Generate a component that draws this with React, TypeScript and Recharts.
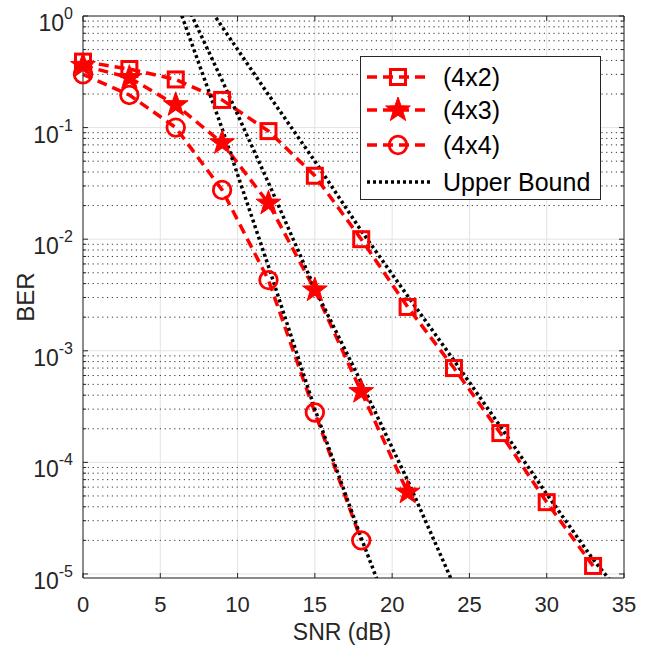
import React from "react";
import {
  LineChart,
  Line,
  XAxis,
  YAxis,
  CartesianGrid,
  ReferenceLine,
  Legend,
} from "recharts";

// simulated BER curves
const snr4x2 = [0, 3, 6, 9, 12, 15, 18, 21, 24, 27, 30, 33];
const ber4x2 = [0.39, 0.335, 0.27, 0.177, 0.093, 0.037, 0.01, 0.00247, 7.0e-4, 1.83e-4, 4.4e-5, 1.18e-5];

const snr4x3 = [0, 3, 6, 9, 12, 15, 18, 21];
const ber4x3 = [0.36, 0.28, 0.16, 0.073, 0.021, 0.0035, 4.3e-4, 5.4e-5];

const snr4x4 = [0, 3, 6, 9, 12, 15, 18];
const ber4x4 = [0.3, 0.196, 0.1, 0.0276, 0.0043, 2.8e-4, 2.0e-5];

// upper bounds
const boundSnr4x2 = [6, 9, 12, 15, 18, 21, 24, 27, 30, 33, 34.5];
const bound4x2 = [3.3, 0.8, 0.197, 0.05, 0.0119, 0.0031, 8.2e-4, 2.1e-4, 5.2e-5, 1.35e-5, 7.5e-6];

const boundSnr4x3 = [6, 9, 12, 15, 18, 21, 24];
const bound4x3 = [2.05, 0.265, 0.032, 0.0036, 5.2e-4, 6.9e-5, 7.9e-6];

const boundSnr4x4 = [6, 9, 12, 15, 18, 19.5];
const bound4x4 = [1.43, 0.098, 0.0057, 3.0e-4, 2.1e-5, 6.0e-6];

const xTicks = [0, 5, 10, 15, 20, 25, 30, 35];
const yTicks = [1e-5, 1e-4, 1e-3, 1e-2, 1e-1, 1];
const minorSteps = [2, 3, 4, 5, 6, 7, 8, 9];
const minorY = yTicks.slice(0, -1).flatMap((d) => minorSteps.map((m) => m * d));

const legendRows = [
  { label: "(4x2)", kind: "square" },
  { label: "(4x3)", kind: "star" },
  { label: "(4x4)", kind: "circle" },
  { label: "Upper Bound", kind: "bound" },
];

const toPoints = (xs: number[], ys: number[]) => xs.map((snr, i) => ({ snr, ber: ys[i] }));

const RED = "#ff0000";
const AXIS = "#262626";
const FONT = "'Liberation Sans', Arial, Helvetica, sans-serif";
const PL = 83;
const PR = 624;
const PT = 16;
const PB = 578;

function starPoints(cx: number, cy: number, R: number, r: number) {
  const pts: string[] = [];
  for (let i = 0; i < 10; i++) {
    const a = -Math.PI / 2 + (i * Math.PI) / 5;
    const rad = i % 2 === 0 ? R : r;
    pts.push(`${cx + rad * Math.cos(a)},${cy + rad * Math.sin(a)}`);
  }
  return pts.join(" ");
}

function Marker({ kind, cx, cy }: { kind: string; cx: number; cy: number }) {
  if (kind === "square")
    return <rect x={cx - 7.5} y={cy - 7.5} width={15} height={15} fill="none" stroke={RED} strokeWidth={3} />;
  if (kind === "circle") return <circle cx={cx} cy={cy} r={8.8} fill="none" stroke={RED} strokeWidth={2.8} />;
  if (kind === "star") return <polygon points={starPoints(cx, cy, 13, 5.2)} fill={RED} stroke={RED} strokeWidth={1} />;
  return null;
}

const dotFor = (kind: string) => (p: any) =>
  <Marker key={`${kind}-${p.index}`} kind={kind} cx={p.cx} cy={p.cy} />;

const YTick = ({ y, payload }: any) => {
  const exp = Math.round(Math.log10(payload.value));
  return (
    <g>
      <text x={73} y={y + 15} textAnchor="end" fontSize={23} fill={AXIS} fontFamily={FONT}>
        10
        <tspan dy={-12} fontSize={16}>
          {`${exp}`}
        </tspan>
      </text>
      <line x1={PL} x2={PL + 5} y1={y} y2={y} stroke={AXIS} />
      <line x1={PR - 5} x2={PR} y1={y} y2={y} stroke={AXIS} />
    </g>
  );
};

const XTick = ({ x, payload }: any) => (
  <g>
    <text x={x} y={PB + 34} textAnchor="middle" fontSize={22} fill={AXIS} fontFamily={FONT}>
      {payload.value}
    </text>
    <line x1={x} x2={x} y1={PB - 5} y2={PB} stroke={AXIS} />
    <line x1={x} x2={x} y1={PT} y2={PT + 5} stroke={AXIS} />
  </g>
);

const LegendBox = () => (
  <svg width={241} height={144} style={{ display: "block" }}>
    <rect x={0.5} y={0.5} width={240} height={143} fill="#fff" stroke={AXIS} strokeWidth={1} />
    {legendRows.map((row, i) => {
      const cy = [21, 54, 89, 126][i];
      const bound = row.kind === "bound";
      return (
        <g key={row.label}>
          <line
            x1={7}
            x2={70}
            y1={cy}
            y2={cy}
            stroke={bound ? "#000" : RED}
            strokeWidth={3.5}
            strokeDasharray={bound ? "3 3" : "10 6"}
          />
          <Marker kind={row.kind} cx={38} cy={cy} />
          <text x={83} y={cy + 9} fontSize={25} fill="#000" fontFamily={FONT}>
            {row.label}
          </text>
        </g>
      );
    })}
  </svg>
);

const YLabel = () => (
  <text x={34} y={297} transform="rotate(-90, 34, 297)" textAnchor="middle" fontSize={24} fill={AXIS} fontFamily={FONT}>
    BER
  </text>
);

const XLabel = () => (
  <text x={342} y={640} textAnchor="middle" fontSize={23} fill={AXIS} fontFamily={FONT}>
    SNR (dB)
  </text>
);

export default function App() {
  const redSeries = [
    { name: "(4x2)", kind: "square", data: toPoints(snr4x2, ber4x2) },
    { name: "(4x3)", kind: "star", data: toPoints(snr4x3, ber4x3) },
    { name: "(4x4)", kind: "circle", data: toPoints(snr4x4, ber4x4) },
  ];
  const bounds = [
    toPoints(boundSnr4x2, bound4x2),
    toPoints(boundSnr4x3, bound4x3),
    toPoints(boundSnr4x4, bound4x4),
  ];

  return (
    <div style={{ position: "absolute", left: 0, top: 0, background: "#fff" }}>
      <LineChart width={654} height={646} margin={{ top: PT, right: 654 - PR, left: 0, bottom: 0 }}>
        <CartesianGrid stroke="#e3e3e3" strokeWidth={1} />
        {minorY.map((v) => (
          <ReferenceLine key={`m${v}`} y={v} stroke="#333" strokeWidth={1} strokeDasharray="1.2 3.6" />
        ))}
        {minorY.map((v) => (
          <ReferenceLine key={`tl${v}`} segment={[{ x: 0, y: v }, { x: 0.2, y: v }]} stroke={AXIS} />
        ))}
        {minorY.map((v) => (
          <ReferenceLine key={`tr${v}`} segment={[{ x: 34.8, y: v }, { x: 35, y: v }]} stroke={AXIS} />
        ))}
        <XAxis
          dataKey="snr"
          type="number"
          domain={[0, 35]}
          ticks={xTicks}
          interval={0}
          height={646 - PB}
          tickLine={false}
          axisLine={{ stroke: AXIS }}
          tick={<XTick />}
          label={<XLabel />}
          allowDuplicatedCategory={false}
        />
        <YAxis
          dataKey="ber"
          type="number"
          scale="log"
          domain={[9.2e-6, 1]}
          allowDataOverflow
          ticks={yTicks}
          interval={0}
          width={PL}
          tickLine={false}
          axisLine={{ stroke: AXIS }}
          tick={<YTick />}
          label={<YLabel />}
        />
        <ReferenceLine y={1} stroke={AXIS} />
        <ReferenceLine x={35} stroke={AXIS} />
        {redSeries.map((s) => (
          <Line
            key={s.name}
            data={s.data}
            dataKey="ber"
            name={s.name}
            stroke={RED}
            strokeWidth={3.5}
            strokeDasharray="10 6"
            dot={dotFor(s.kind)}
            activeDot={false}
            isAnimationActive={false}
          />
        ))}
        {bounds.map((d, i) => (
          <Line
            key={`ub${i}`}
            data={d}
            dataKey="ber"
            name="Upper Bound"
            stroke="#000"
            strokeWidth={3.5}
            strokeDasharray="3 3"
            dot={false}
            activeDot={false}
            legendType="none"
            isAnimationActive={false}
          />
        ))}
        <Legend
          layout="vertical"
          align="center"
          verticalAlign="middle"
          content={<LegendBox />}
          wrapperStyle={{ left: 360, top: 56, width: 241, height: 144 }}
        />
      </LineChart>
    </div>
  );
}
